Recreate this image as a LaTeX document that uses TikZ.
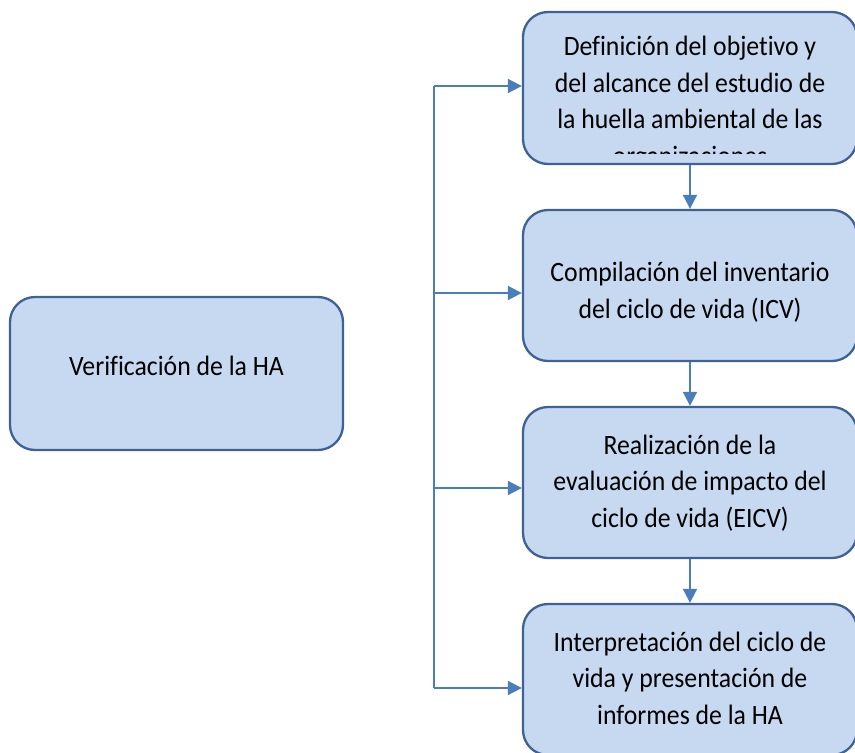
\documentclass[tikz,border=0pt]{standalone}
\usepackage{fontspec}
\setmainfont[FakeStretch=0.92,Ligatures=NoCommon]{Carlito}
\usetikzlibrary{arrows.meta}
\definecolor{boxfill}{RGB}{198,217,241}
\definecolor{boxline}{RGB}{62,98,150}
\definecolor{conn}{RGB}{74,126,187}
\begin{document}
\begin{tikzpicture}[x=1pt,y=-1pt,
  box/.style={draw=boxline,fill=boxfill,line width=2.3pt,rounded corners=25pt,inner sep=0pt},
  lbl/.style={align=center,inner sep=0pt,font=\fontsize{28}{36.5}\selectfont},
  arr/.style={draw=conn,line width=1.8pt,-{Triangle[length=14pt,width=14pt]}},
  bus/.style={draw=conn,line width=1.8pt}]
\useasboundingbox (0,0) rectangle (855,753);
% left box
\node[box,minimum width=333pt,minimum height=153pt] (v) at (176.5,373.5) {};
\node[lbl] (vt) at (176.5,366) {Verificación de la HA};
% right boxes
\node[box,minimum width=334pt,minimum height=152pt] (b1) at (690,88) {};
\node[box,minimum width=334pt,minimum height=151pt] (b2) at (690,285.5) {};
\node[box,minimum width=334pt,minimum height=151pt] (b3) at (690,482.5) {};
\node[box,minimum width=334pt,minimum height=151pt] (b4) at (690,679.5) {};
\begin{scope}
\clip (523,12) rectangle (857,153);
\node[lbl] (t1) at (690,103) {Definición del objetivo y\\del alcance del estudio de\\la huella ambiental de las\\organizaciones};
\end{scope}
\node[lbl] (t2) at (690,292) {Compilación del inventario\\del ciclo de vida (ICV)};
\node[lbl] (t3) at (690,483) {Realización de la\\evaluación de impacto del\\ciclo de vida (EICV)};
\node[lbl] (t4) at (690,678) {Interpretación del ciclo de\\vida y presentación de\\informes de la HA};
% bus
\coordinate (j1) at (434,86);
\coordinate (j2) at (434,293);
\coordinate (j3) at (434,488);
\coordinate (j4) at (434,688);
\draw[bus] (j1) -- (j4);
\draw[arr] (j1) -- (j1 -| b1.west);
\draw[arr] (j2) -- (j2 -| b2.west);
\draw[arr] (j3) -- (j3 -| b3.west);
\draw[arr] (j4) -- (j4 -| b4.west);
% vertical arrows
\draw[arr] (b1.south) -- (b2.north);
\draw[arr] (b2.south) -- (b3.north);
\draw[arr] (b3.south) -- (b4.north);
\end{tikzpicture}
\end{document}
